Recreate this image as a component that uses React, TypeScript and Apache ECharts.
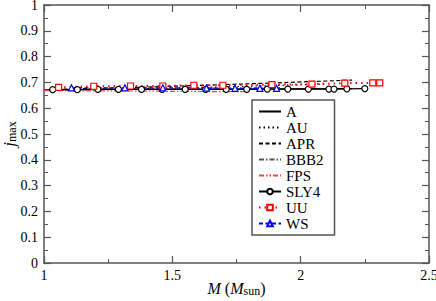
import React, { useEffect, useRef } from "react";
import * as echarts from "echarts";

const seriesNames = ["A", "AU", "APR", "BBB2", "FPS", "SLY4", "UU", "WS"];

const aMass = [1.0, 1.3, 1.6, 1.9, 2.2];
const aJ = [0.672, 0.673, 0.674, 0.675, 0.676];

const auMass = [1.0, 1.3, 1.6, 1.9, 2.1];
const auJ = [0.669, 0.674, 0.680, 0.688, 0.694];

const aprMass = [1.0, 1.3, 1.6, 1.9, 2.2];
const aprJ = [0.672, 0.679, 0.688, 0.698, 0.709];

const bbbMass = [1.0, 1.3, 1.6, 1.92];
const bbbJ = [0.671, 0.674, 0.677, 0.680];

const fpsMass = [1.0, 1.3, 1.55, 1.8];
const fpsJ = [0.668, 0.667, 0.665, 0.664];

const slyMass = [1.034, 1.13, 1.21, 1.29, 1.38, 1.46, 1.55, 1.63, 1.71, 1.79, 1.87, 1.95, 2.03, 2.11, 2.13, 2.18, 2.25];
const slyJ = [0.672, 0.672, 0.673, 0.673, 0.673, 0.673, 0.673, 0.673, 0.673, 0.673, 0.674, 0.674, 0.674, 0.674, 0.674, 0.675, 0.676];

const uuMass = [1.057, 1.194, 1.337, 1.463, 1.584, 1.697, 1.888, 2.044, 2.172, 2.281, 2.308];
const uuJ = [0.681, 0.685, 0.686, 0.686, 0.689, 0.689, 0.691, 0.693, 0.697, 0.698, 0.698];

const wsMass = [1.107, 1.315, 1.463, 1.633, 1.744, 1.841, 1.906];
const wsJ = [0.679, 0.679, 0.679, 0.678, 0.677, 0.677, 0.677];

const xTicks = [1, 1.5, 2, 2.5];
const yTicks = [0, 0.1, 0.2, 0.3, 0.4, 0.5, 0.6, 0.7, 0.8, 0.9, 1];

const zip = (xs: number[], ys: number[]) => xs.map((x, i) => [x, ys[i]]);

const FONT = "'Liberation Serif', 'Times New Roman', serif";
const FRAME = "#555";

export default function App() {
  const ref = useRef<HTMLDivElement>(null);
  useEffect(() => {
    const chart = echarts.init(ref.current!, null, { renderer: "svg" });
    const axisCommon = {
      axisLine: { show: true, onZero: false, lineStyle: { color: FRAME, width: 1.5 } },
      axisTick: { show: true, inside: true, length: 7, lineStyle: { color: FRAME, width: 1.2 } },
      minorTick: { show: true, splitNumber: 2, length: 4, lineStyle: { color: FRAME, width: 1 } },
      splitLine: { show: false },
    };
    const lineSeries = (
      name: string,
      data: number[][],
      color: string,
      type: any,
      symbol: string = "none",
      width = 1.2
    ) => ({
      name,
      type: "line",
      data,
      symbol,
      symbolSize: 6,
      showSymbol: symbol !== "none",
      itemStyle: { color: "#fff", borderColor: color, borderWidth: 1.2 },
      lineStyle: { color, type, width },
      color,
      silent: true,
    });
    const legendData = seriesNames.map((n, i) =>
      i < 5
        ? { name: n, itemStyle: { color: "transparent", borderColor: "transparent", borderWidth: 0, opacity: 0 } }
        : { name: n }
    );
    chart.setOption({
      animation: false,
      textStyle: { fontFamily: FONT },
      grid: { left: 44, right: 7, top: 5, bottom: 38, containLabel: false, outerBoundsMode: "none" },
      xAxis: [
        {
          type: "value",
          min: 1,
          max: 2.5,
          interval: 0.5,
          ...axisCommon,
          axisLabel: {
            color: "#000",
            fontFamily: FONT,
            fontSize: 14,
            margin: 5,
            formatter: (v: number) => (xTicks.includes(v) ? String(v) : ""),
          },
          name: "{i|M} ({i|M}{s|sun})",
          nameLocation: "middle",
          nameGap: 16,
          nameMoveOverlap: false,
          nameTextStyle: {
            color: "#000",
            fontFamily: FONT,
            fontSize: 16,
            lineHeight: 18,
            rich: {
              i: { fontFamily: FONT, fontSize: 16, fontStyle: "italic", color: "#000", lineHeight: 18 },
              s: { fontFamily: FONT, fontSize: 12, color: "#000", verticalAlign: "bottom", lineHeight: 12 },
            },
          },
        },
        {
          type: "value",
          min: 1,
          max: 2.5,
          interval: 0.5,
          position: "top",
          ...axisCommon,
          axisLabel: { show: false },
        },
      ],
      yAxis: [
        {
          type: "value",
          min: 0,
          max: 1,
          interval: 0.1,
          ...axisCommon,
          axisLabel: {
            color: "#000",
            fontFamily: FONT,
            fontSize: 14,
            margin: 6,
            formatter: (v: number) => {
              const r = Math.round(v * 10) / 10;
              return yTicks.includes(r) ? String(r) : "";
            },
          },
          name: "{i|j}{s|max}",
          nameLocation: "middle",
          nameGap: 26,
          nameRotate: 90,
          nameMoveOverlap: false,
          nameTextStyle: {
            color: "#000",
            fontFamily: FONT,
            fontSize: 16,
            lineHeight: 18,
            rich: {
              i: { fontFamily: FONT, fontSize: 17, fontStyle: "italic", color: "#000", lineHeight: 18 },
              s: { fontFamily: FONT, fontSize: 12, color: "#000", verticalAlign: "bottom", lineHeight: 12 },
            },
          },
        },
        {
          type: "value",
          min: 0,
          max: 1,
          interval: 0.1,
          position: "right",
          ...axisCommon,
          axisLabel: { show: false },
        },
      ],
      legend: {
        orient: "vertical",
        left: 252,
        top: 100,
        width: 80,
        data: legendData,
        itemWidth: 22,
        itemHeight: 7,
        itemGap: 1,
        padding: [4, 11, 4, 6],
        backgroundColor: "#fff",
        borderColor: FRAME,
        borderWidth: 1.5,
        borderRadius: 0,
        selectedMode: false,
        textStyle: { fontFamily: FONT, fontSize: 15, color: "#000", lineHeight: 15 },
      },
      series: [
        lineSeries(seriesNames[0], zip(aMass, aJ), "#000", "solid"),
        lineSeries(seriesNames[1], zip(auMass, auJ), "#000", [1.5, 3]),
        lineSeries(seriesNames[2], zip(aprMass, aprJ), "#000", [4, 2.5]),
        lineSeries(seriesNames[3], zip(bbbMass, bbbJ), "#555", [5, 2, 1.5, 2]),
        lineSeries(seriesNames[4], zip(fpsMass, fpsJ), "#ff4040", [5, 2, 1.5, 2, 1.5, 2]),
        lineSeries(seriesNames[5], zip(slyMass, slyJ), "#000", "solid", "circle"),
        lineSeries(seriesNames[6], zip(uuMass, uuJ), "#ff0000", [1.5, 4], "rect", 2),
        lineSeries(seriesNames[7], zip(wsMass, wsJ), "#0000ff", [4, 2.5], "triangle"),
      ],
    });
    return () => chart.dispose();
  }, []);
  return <div ref={ref} style={{ width: 436, height: 301, position: "absolute", left: 0, top: 0 }} />;
}
